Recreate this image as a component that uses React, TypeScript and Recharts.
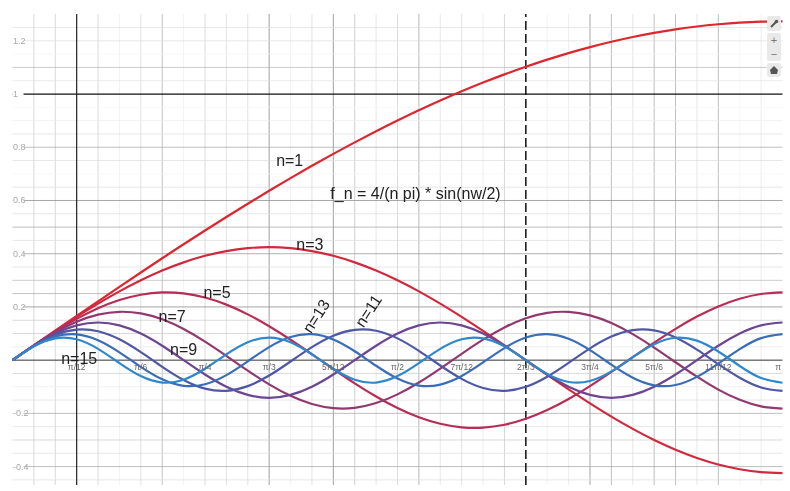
import { LineChart, Line, XAxis, YAxis, ReferenceLine, ReferenceDot } from 'recharts'

// w in degrees, one sample every 5 deg (pi/36)
const wDegrees = [
  0, 5, 10, 15, 20, 25, 30, 35, 40, 45, 50, 55, 60, 65, 70, 75, 80, 85, 90,
  95, 100, 105, 110, 115, 120, 125, 130, 135, 140, 145, 150, 155, 160, 165, 170, 175, 180,
]

const n1 = [
  0, 0.0555, 0.111, 0.1662, 0.2211, 0.2755, 0.3295, 0.3829, 0.4354, 0.4873, 0.5381, 0.5878, 0.6366,
  0.6841, 0.7303, 0.7751, 0.8184, 0.8602, 0.9003, 0.9387, 0.9753, 1.0102, 1.043, 1.0738, 1.1026,
  1.1293, 1.1539, 1.1763, 1.1964, 1.2143, 1.2298, 1.243, 1.2539, 1.2622, 1.2684, 1.2719, 1.2732,
]
const n3 = [
  0, 0.0554, 0.1098, 0.1624, 0.2122, 0.2584, 0.3001, 0.3367, 0.3675, 0.3921, 0.4099, 0.4207, 0.4244,
  0.4207, 0.4099, 0.3921, 0.3675, 0.3367, 0.3001, 0.2584, 0.2122, 0.1624, 0.1098, 0.0554, 0,
  -0.0554, -0.1098, -0.1624, -0.2122, -0.2584, -0.3001, -0.3367, -0.3675, -0.3921, -0.4099, -0.4207, -0.4244,
]
const n5 = [
  0, 0.0551, 0.1076, 0.155, 0.195, 0.2258, 0.2459, 0.2544, 0.2507, 0.2352, 0.2086, 0.172, 0.1273,
  0.0766, 0.0222, -0.0332, -0.0871, -0.1368, -0.18, -0.2147, -0.2392, -0.2524, -0.2536, -0.2428, -0.2205,
  -0.1877, -0.146, -0.0974, -0.0442, 0.0111, 0.0659, 0.1175, 0.1637, 0.202, 0.2307, 0.2486, 0.2546,
]
const n7 = [
  0, 0.0547, 0.1043, 0.1443, 0.1709, 0.1817, 0.1757, 0.1534, 0.1169, 0.0696, 0.0159, -0.0394, -0.091,
  -0.1341, -0.1649, -0.1803, -0.1791, -0.1613, -0.1286, -0.084, -0.0316, 0.0237, 0.0769, 0.1229, 0.1575,
  0.1776, 0.1812, 0.1681, 0.1393, 0.0977, 0.0471, -0.0079, -0.0622, -0.1107, -0.149, -0.1735, -0.1819,
]
const n9 = [
  0, 0.0541, 0.1, 0.1307, 0.1415, 0.1307, 0.1, 0.0541, 0, -0.0541, -0.1, -0.1307, -0.1415,
  -0.1307, -0.1, -0.0541, 0, 0.0541, 0.1, 0.1307, 0.1415, 0.1307, 0.1, 0.0541, 0,
  -0.0541, -0.1, -0.1307, -0.1415, -0.1307, -0.1, -0.0541, 0, 0.0541, 0.1, 0.1307, 0.1415,
]
const n11 = [
  0, 0.0534, 0.0948, 0.1147, 0.1087, 0.0782, 0.0299, -0.025, -0.0744, -0.1069, -0.1153, -0.0976, -0.0579,
  -0.005, 0.0489, 0.0918, 0.1139, 0.1103, 0.0818, 0.0348, -0.0201, -0.0704, -0.1049, -0.1156, -0.1002,
  -0.0622, -0.0101, 0.0443, 0.0886, 0.113, 0.1118, 0.0853, 0.0396, -0.0151, -0.0664, -0.1026, -0.1157,
]
const n13 = [
  0, 0.0526, 0.0887, 0.0971, 0.075, 0.0294, -0.0253, -0.0722, -0.0964, -0.0905, -0.0562, -0.0043, 0.049,
  0.0868, 0.0975, 0.0777, 0.0335, -0.0212, -0.0692, -0.0956, -0.092, -0.0596, -0.0085, 0.0452, 0.0848,
  0.0978, 0.0802, 0.0375, -0.017, -0.0661, -0.0946, -0.0934, -0.0629, -0.0128, 0.0414, 0.0826, 0.0979,
]
const n15 = [
  0, 0.0517, 0.082, 0.0784, 0.0424, -0.0111, -0.06, -0.0842, -0.0735, -0.0325, 0.022, 0.0674, 0.0849,
  0.0674, 0.022, -0.0325, -0.0735, -0.0842, -0.06, -0.0111, 0.0424, 0.0784, 0.082, 0.0517, 0,
  -0.0517, -0.082, -0.0784, -0.0424, 0.0111, 0.06, 0.0842, 0.0735, 0.0325, -0.022, -0.0674, -0.0849,
]

const seriesKeys = ['n1', 'n3', 'n5', 'n7', 'n9', 'n11', 'n13', 'n15']
const seriesColors = ['#dd262e', '#d1283d', '#b82d56', '#93386f', '#6c4691', '#4f57a6', '#3a6db8', '#2e88cc']

const tickDegrees = [15, 30, 45, 60, 75, 90, 105, 120, 135, 150, 165, 179]
const tickLabels = ['π/12', 'π/6', 'π/4', 'π/3', '5π/12', 'π/2', '7π/12', '2π/3', '3π/4', '5π/6', '11π/12', 'π']
const yTicks = [1.2, 1, 0.8, 0.6, 0.4, 0.2, -0.2, -0.4]

// the screenshot's grid is uneven, each line gets its own grey
const gridW = [
  5, 10, 20, 25, 30, 35, 40, 45, 50, 55, 60, 65, 70, 75, 80, 85, 90, 95, 100, 105, 110, 115,
  125, 130, 135, 140, 145, 150, 155, 160, 165, 170, 175,
]
const gridWColors = [
  '#ccc', '#ccc', '#d0d0d0', '#eee', '#d8d8d8', '#b0b0b0', '#efefef', '#d0d0d0', '#d8d8d8', '#d8d8d8', '#808080',
  '#f0f0f0', '#d8d8d8', '#808080', '#c0c0c0', '#e0e0e0', '#d0d0d0', '#a0a0a0', '#e0e0e0', '#d8d8d8', '#e8e8e8', '#c8c8c8',
  '#f0f0f0', '#e8e8e8', '#888', '#aaa', '#ddd', '#aaa', '#aaa', '#ddd', '#aaa', '#f4f4f4', '#e8e8e8',
]
const gridY = [
  1.25, 1.2, 1.15, 1.1, 1.05, 0.95, 0.9, 0.85, 0.8, 0.75, 0.7, 0.65, 0.6, 0.55, 0.5, 0.45, 0.4, 0.35,
  0.3, 0.25, 0.2, 0.15, 0.1, 0.05, -0.05, -0.1, -0.15, -0.2, -0.25, -0.3, -0.35, -0.4, -0.45,
]
const gridYColors = [
  '#e0e0e0', '#ddd', '#f4f4f4', '#bbb', '#e4e4e4', '#f4f4f4', '#eee', '#e0e0e0', '#aaa', '#ddd', '#f4f4f4', '#ddd', '#888',
  '#ddd', '#aaa', '#ddd', '#999', '#ddd', '#bbb', '#aaa', '#888', '#ccc', '#ccc', '#e8e8e8',
  '#ccc', '#eee', '#ddd', '#aaa', '#ddd', '#ccc', '#ddd', '#aaa', '#ddd',
]

const data = wDegrees.map((w, i) => ({
  w,
  n1: n1[i], n3: n3[i], n5: n5[i], n7: n7[i], n9: n9[i], n11: n11[i], n13: n13[i], n15: n15[i],
}))

const FONT = '"Liberation Sans", Arial, sans-serif'

function note(text: string, angle = 0, size = 16, fill = '#222') {
  return (p: any) => {
    const cx = p.viewBox.x + p.viewBox.width / 2
    const cy = p.viewBox.y + p.viewBox.height / 2
    return (
      <text x={cx} y={cy} textAnchor="middle" dominantBaseline="central" fontFamily={FONT} fontSize={size}
        fill={fill} transform={angle ? `rotate(${angle} ${cx} ${cy})` : undefined}>
        {text}
      </text>
    )
  }
}

function YTick({ y, payload }: any) {
  return (
    <g>
      <rect x={12.5} y={y - 5} width={11} height={10} fill="#fff" />
      <text x={13} y={y + 3} fontFamily={FONT} fontSize={9} fill="#a8a8a8">{payload.value}</text>
    </g>
  )
}

function Toolbar() {
  const box: React.CSSProperties = {
    position: 'absolute', left: 767, width: 14, background: '#e9e9e9', borderRadius: 2, color: '#777',
    fontFamily: FONT, textAlign: 'center',
  }
  return (
    <>
      <div style={{ ...box, top: 16, height: 15 }}>
        <svg width="14" height="15"><path d="M4 11 L9 6" stroke="#555" strokeWidth="2" /><circle cx="9.5" cy="5.5" r="1.8" fill="#555" /></svg>
      </div>
      <div style={{ ...box, top: 33, height: 28, fontSize: 11, lineHeight: '14px' }}>
        <div>+</div>
        <div>−</div>
      </div>
      <div style={{ ...box, top: 63, height: 14 }}>
        <svg width="14" height="14"><path d="M7 3 L11 7 L10 11 L4 11 L3 7 Z" fill="#555" /></svg>
      </div>
    </>
  )
}

export default function App() {
  return (
    <div style={{ position: 'absolute', left: 0, top: 0, width: 790, height: 491, background: '#fff' }}>
      {/* the reference is a soft screenshot, a touch of blur brings the thin lines closer */}
      <div style={{ filter: 'blur(0.4px)' }}>
        <LineChart width={790} height={491} data={data} margin={{ top: 14, right: 7.5, bottom: 6, left: 12.5 }}>
          <XAxis dataKey="w" type="number" domain={[0, 180]} hide />
          <YAxis type="number" domain={[-0.4692, 1.3008]} ticks={yTicks} mirror width={1} axisLine={false} tickLine={false}
            tick={(p: any) => <YTick {...p} />} interval={0} zIndex={500} />
          {gridW.map((w, i) => <ReferenceLine key={'v' + w} x={w} stroke={gridWColors[i]} strokeWidth={1} strokeOpacity={0.75} />)}
          {gridY.map((v, i) => <ReferenceLine key={'h' + v} y={v} stroke={gridYColors[i]} strokeWidth={1} strokeOpacity={0.75} />)}
          <ReferenceLine y={0} stroke="#333" strokeWidth={1} />
          <ReferenceLine y={1} stroke="#111" strokeWidth={1.2} />
          <ReferenceLine x={15} stroke="#222" strokeWidth={1.2} />
          <ReferenceLine x={120} stroke="#111" strokeWidth={1.5} strokeDasharray="9 4" />
          {seriesKeys.map((k, i) => (
            <Line key={k} dataKey={k} type="natural" stroke={seriesColors[i]} strokeWidth={2.2} dot={false} isAnimationActive={false} />
          ))}
          {tickDegrees.map((w, i) => (
            <ReferenceDot key={'t' + w} x={w} y={-0.026} r={0} stroke="none" ifOverflow="visible"
              label={note(tickLabels[i], 0, 8.5, '#666')} />
          ))}
          <ReferenceDot x={64.8} y={0.75} r={0} stroke="none" label={note('n=1')} />
          <ReferenceDot x={69.5} y={0.435} r={0} stroke="none" label={note('n=3')} />
          <ReferenceDot x={47.8} y={0.255} r={0} stroke="none" label={note('n=5')} />
          <ReferenceDot x={37.3} y={0.165} r={0} stroke="none" label={note('n=7')} />
          <ReferenceDot x={40} y={0.04} r={0} stroke="none" label={note('n=9')} />
          <ReferenceDot x={15.6} y={0.006} r={0} stroke="none" label={note('n=15')} />
          <ReferenceDot x={71} y={0.165} r={0} stroke="none" label={note('n=13', -57)} />
          <ReferenceDot x={83.2} y={0.185} r={0} stroke="none" label={note('n=11', -57)} />
          <ReferenceDot x={94.2} y={0.625} r={0} stroke="none" label={note('f_n = 4/(n pi) * sin(nw/2)')} />
        </LineChart>
      </div>
      <Toolbar />
    </div>
  )
}
